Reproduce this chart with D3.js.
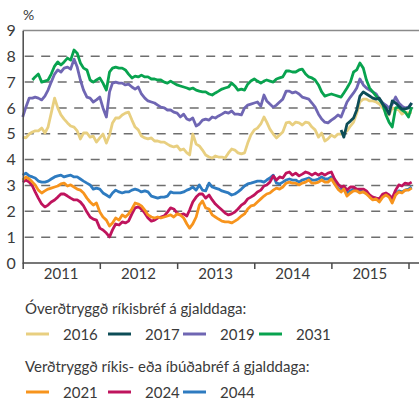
<!DOCTYPE html>
<html>
<head>
<meta charset="utf-8">
<script src="https://cdn.jsdelivr.net/npm/d3@7"></script>
<style>
  body { margin: 0; background: #fff; }
  svg { display: block; font-family: Lato, sans-serif; }
</style>
</head>
<body>
<div id="chart"></div>
<script>
const yearLabels = ['2011', '2012', '2013', '2014', '2015'];
const yTicks = [0, 1, 2, 3, 4, 5, 6, 7, 8, 9];

const nomLegendTitle = 'Óverðtryggð ríkisbréf á gjalddaga:';
const idxLegendTitle = 'Verðtryggð ríkis- eða íbúðabréf á gjalddaga:';

const start2016 = '2011-01-01';
const values2016 = [4.87,4.84,4.99,5.07,5.11,5.11,5.22,5.03,5.26,5.80,6.38,6.00,5.73,5.57,5.42,5.30,5.26,5.11,4.80,5.03,
  5.03,4.87,4.91,4.68,4.84,4.99,4.64,4.95,5.42,5.61,5.61,5.73,5.80,5.84,5.53,5.26,5.15,4.91,4.84,4.80,
  4.84,4.72,4.72,4.68,4.68,4.60,4.53,4.49,4.53,4.37,4.41,4.26,4.18,4.99,4.60,4.53,4.37,4.18,4.10,4.06,
  4.14,4.10,4.10,4.06,4.26,4.41,4.37,4.26,4.22,4.26,4.64,4.95,5.15,5.22,5.38,5.65,5.45,5.18,4.99,4.84,
  4.95,5.07,5.42,5.45,5.34,5.45,5.42,5.34,5.45,5.42,5.26,5.15,4.87,5.03,4.72,4.80,4.95,4.87,4.99,4.99,
  5.03,5.11,5.30,5.45,5.80,6.23,6.34,6.34,6.27,6.27,6.23,6.15,6.00,5.84,5.73,6.00,5.96,5.92,5.76,5.84,
  5.80,5.84];

const start2017 = '2015-02-16';
const values2017 = [5.15,4.87,5.38,5.49,5.61,5.92,6.46,6.62,6.54,6.46,6.38,6.34,6.38,6.15,6.00,5.76,6.27,6.19,6.07,5.96,
  5.96,6.00,6.19];

const start2019 = '2011-01-01';
const values2019 = [5.65,6.03,6.38,6.38,6.42,6.38,6.31,6.46,6.69,7.00,7.31,7.47,7.39,7.54,7.58,7.50,7.89,7.58,7.08,6.69,
  6.42,6.38,6.23,6.31,6.42,6.00,5.65,6.62,6.96,7.00,6.96,6.96,6.89,6.92,6.81,6.73,6.81,6.54,6.38,6.27,
  6.23,6.19,6.11,6.03,6.00,5.92,5.92,5.84,5.80,5.65,5.76,5.57,5.53,5.61,5.30,5.38,5.53,5.57,5.53,5.65,
  5.61,5.69,5.76,5.84,5.80,5.88,5.76,5.76,5.73,6.00,6.11,6.15,6.19,6.23,6.07,6.50,6.27,6.15,6.03,6.11,
  6.23,6.34,6.65,6.65,6.58,6.62,6.54,6.42,6.38,6.34,6.19,6.03,5.76,5.57,5.45,5.42,5.53,5.61,5.73,5.65,
  5.92,6.23,6.42,6.58,6.77,7.12,6.89,6.77,6.69,6.62,6.54,6.34,6.19,6.11,6.00,6.15,6.42,6.19,6.07,6.00,
  6.03,6.19];

const start2031 = '2011-02-16';
const values2031 = [7.08,7.20,7.31,7.00,7.04,7.08,7.31,7.62,7.78,7.66,7.78,7.93,7.85,8.24,8.12,7.74,7.54,7.47,7.08,7.00,
  7.08,7.16,6.96,6.69,7.39,7.54,7.58,7.54,7.54,7.47,7.31,7.16,7.23,7.20,7.27,7.20,7.20,7.12,7.12,7.08,
  7.08,7.00,6.96,7.04,6.96,6.89,6.85,6.81,6.77,6.73,6.77,6.69,6.65,6.62,6.62,6.54,6.50,6.58,6.65,6.73,
  6.77,6.81,6.96,6.85,6.69,6.73,6.69,6.92,7.04,7.12,7.04,6.96,7.04,7.08,7.04,7.00,7.12,7.16,7.20,7.43,
  7.43,7.39,7.39,7.47,7.50,7.31,7.20,7.16,7.08,6.89,6.62,6.46,6.50,6.54,6.50,6.46,6.42,6.58,6.77,7.00,
  7.39,7.47,7.74,7.54,7.08,6.77,6.62,6.46,6.31,6.15,5.73,5.45,5.26,6.00,6.03,5.92,5.84,5.65,6.03];

const start2021 = '2011-01-01';
const values2021 = [3.21,3.33,3.25,3.13,3.02,2.82,2.71,2.79,2.86,2.90,2.94,2.98,3.06,3.09,2.98,3.02,2.94,2.86,2.82,2.71,
  2.51,2.36,2.24,2.32,1.97,1.78,1.66,1.43,1.55,1.74,1.66,1.86,1.78,1.90,2.09,2.32,2.28,2.21,2.05,1.86,
  1.78,1.74,1.78,1.74,1.78,1.82,1.86,1.78,1.90,1.86,1.74,1.51,1.35,1.51,1.78,2.24,2.40,2.13,2.09,1.86,
  1.78,1.70,1.62,1.59,1.59,1.55,1.62,1.70,1.82,1.90,2.09,2.21,2.24,2.36,2.48,2.59,2.67,2.71,2.82,2.90,
  2.86,2.94,3.09,3.13,3.09,3.09,3.02,3.09,3.13,3.21,3.09,3.09,3.13,3.21,3.13,3.13,3.25,3.06,2.86,2.75,
  2.86,2.59,2.71,2.79,2.79,2.71,2.75,2.67,2.55,2.44,2.48,2.36,2.55,2.63,2.55,2.32,2.63,2.75,2.71,2.82,
  2.82,2.90];

const start2024 = '2011-01-01';
const values2024 = [3.13,3.21,3.13,2.98,2.75,2.51,2.28,2.17,2.24,2.36,2.44,2.55,2.67,2.67,2.59,2.51,2.44,2.44,2.36,2.21,
  1.97,1.78,1.70,1.66,1.35,1.28,1.16,1.01,1.28,1.51,1.47,1.59,1.55,1.62,1.90,2.13,2.17,2.09,1.93,1.74,
  1.62,1.66,1.74,1.78,1.82,1.97,2.13,2.09,1.93,1.86,1.90,1.82,2.05,2.36,2.55,2.67,2.67,2.51,2.63,2.44,
  2.28,2.17,2.05,1.93,1.86,1.90,1.97,2.09,2.24,2.32,2.48,2.55,2.63,2.75,2.82,2.98,3.02,3.13,3.37,3.21,
  3.33,3.29,3.48,3.52,3.40,3.48,3.37,3.44,3.52,3.48,3.40,3.48,3.40,3.48,3.40,3.48,3.52,3.25,3.06,2.94,
  2.98,2.82,2.94,2.94,2.86,2.86,2.86,2.79,2.63,2.55,2.51,2.48,2.67,2.71,2.63,2.51,2.82,3.02,2.98,3.09,
  3.06,3.13];

const start2044 = '2011-01-01';
const values2044 = [3.40,3.48,3.37,3.33,3.29,3.17,3.13,3.13,3.17,3.25,3.33,3.37,3.40,3.33,3.37,3.40,3.33,3.33,3.25,3.17,
  3.09,3.02,2.86,2.90,2.86,2.71,2.63,2.55,2.71,2.82,2.75,2.71,2.75,2.75,2.82,2.86,2.82,2.75,2.79,2.75,
  2.59,2.55,2.51,2.55,2.55,2.59,2.75,2.71,2.71,2.71,2.75,2.82,2.86,2.94,2.82,3.02,2.82,2.79,3.09,2.94,
  2.90,2.86,2.79,2.75,2.71,2.63,2.67,2.75,2.86,2.98,3.06,3.09,3.13,3.17,3.17,3.13,3.21,3.29,3.40,3.09,
  3.06,3.13,3.21,3.25,3.21,3.21,3.13,3.21,3.25,3.29,3.21,3.21,3.25,3.33,3.25,3.25,3.33,3.09,2.90,2.82,
  2.94,2.71,2.79,2.86,2.79,2.79,2.75,2.71,2.59,2.51,2.51,2.44,2.59,2.67,2.59,2.44,2.67,2.79,2.75,2.82,
  2.86,2.94];

const colors = {
  '2016': '#e8cf80', '2017': '#0d4d57', '2019': '#6f66b3', '2031': '#08a34f',
  '2021': '#f7941d', '2024': '#bf145d', '2044': '#2e7bc0'
};

// expand a start date + semi-monthly values into dated points
const semiMonthly = (startStr, vals) => {
  const s = new Date(startStr + 'T00:00:00');
  const offset = s.getDate() > 1 ? 1 : 0;
  return vals.map((v, i) => {
    const k = i + offset;
    return { date: new Date(s.getFullYear(), s.getMonth() + Math.floor(k / 2), k % 2 ? 16 : 1), value: v };
  });
};

const series = [
  { name: '2016', data: semiMonthly(start2016, values2016) },
  { name: '2019', data: semiMonthly(start2019, values2019) },
  { name: '2031', data: semiMonthly(start2031, values2031) },
  { name: '2017', data: semiMonthly(start2017, values2017) },
  { name: '2044', data: semiMonthly(start2044, values2044) },
  { name: '2024', data: semiMonthly(start2024, values2024) },
  { name: '2021', data: semiMonthly(start2021, values2021) }
];

const svgWidth = 419;
const svgHeight = 401;
const plotLeft = 22.7, plotTop = 30.4, plotBottom = 263, plotRight = 419;

const svg = d3.select('#chart')
  .append('svg')
  .attr('width', svgWidth)
  .attr('height', svgHeight);

const xScale = d3.scaleTime()
  .domain([new Date(2011, 0, 1), new Date(2016, 0, 1)])
  .range([plotLeft, 408.5]);

const yScale = d3.scaleLinear()
  .domain([0, 9])
  .range([plotBottom, plotTop]);

const textColor = '#3a3a3a';

// dashed gridlines
svg.append('g')
  .selectAll('line')
  .data(yTicks.filter(d => d > 0 && d < 9))
  .join('line')
  .attr('x1', plotLeft + 2)
  .attr('x2', 414)
  .attr('y1', d => yScale(d))
  .attr('y2', d => yScale(d))
  .attr('stroke', '#6e6e6e')
  .attr('stroke-width', 1.5)
  .attr('stroke-dasharray', '9,7.5');

// top frame line
svg.append('line')
  .attr('x1', plotLeft).attr('x2', plotRight)
  .attr('y1', yScale(9)).attr('y2', yScale(9))
  .attr('stroke', '#8a8a8a')
  .attr('stroke-width', 1.5);

// lines
const line = d3.line()
  .x(d => xScale(d.date))
  .y(d => yScale(d.value));

svg.append('g')
  .selectAll('path')
  .data(series)
  .join('path')
  .attr('d', d => line(d.data))
  .attr('fill', 'none')
  .attr('stroke', d => colors[d.name])
  .attr('stroke-width', 2.8)
  .attr('stroke-linejoin', 'round');

// y axis
const yAxis = svg.append('g')
  .attr('transform', `translate(${plotLeft},0)`)
  .call(d3.axisLeft(yScale).tickValues(yTicks).tickSize(0).tickPadding(7));
yAxis.select('.domain').attr('stroke', '#4a4a4a').attr('stroke-width', 1.5);
yAxis.selectAll('text')
  .attr('fill', textColor)
  .style('font-size', '16px')
  .style('font-family', 'Lato, sans-serif');

// x axis: year boundary ticks, labels centred in each year
const yearStarts = d3.range(2011, 2017).map(y => new Date(y, 0, 1));
const xAxis = svg.append('g')
  .attr('transform', `translate(0,${plotBottom})`)
  .call(d3.axisBottom(xScale).tickValues(yearStarts).tickSize(6).tickFormat(''));
xAxis.select('.domain').attr('d', `M${plotLeft},0H${plotRight}`).attr('stroke', '#4a4a4a').attr('stroke-width', 1.5);
xAxis.selectAll('.tick line').attr('stroke', '#4a4a4a').attr('stroke-width', 1.5);

svg.append('g')
  .selectAll('text')
  .data(yearLabels)
  .join('text')
  .attr('x', d => xScale(new Date(+d, 6, 2)))
  .attr('y', 279)
  .attr('text-anchor', 'middle')
  .attr('fill', textColor)
  .style('font-size', '15px')
  .text(d => d);

svg.append('text')
  .attr('x', 23)
  .attr('y', 20)
  .attr('fill', textColor)
  .style('font-size', '14px')
  .text('%');

// legend
const legendGroups = [
  { title: nomLegendTitle, titleY: 314, rowY: 334, items: ['2016', '2017', '2019', '2031'] },
  { title: idxLegendTitle, titleY: 372, rowY: 392, items: ['2021', '2024', '2044'] }
];
const itemX = [26, 108, 183, 259];

legendGroups.forEach(g => {
  svg.append('text')
    .attr('x', 25)
    .attr('y', g.titleY)
    .attr('fill', textColor)
    .style('font-size', '15px')
    .text(g.title);

  const items = svg.append('g')
    .selectAll('g')
    .data(g.items)
    .join('g')
    .attr('transform', (d, i) => `translate(${itemX[i]},${g.rowY})`);
  items.append('line')
    .attr('x1', 0).attr('x2', 23)
    .attr('stroke', d => colors[d])
    .attr('stroke-width', 3);
  items.append('text')
    .attr('x', 37)
    .attr('y', 5.5)
    .attr('fill', textColor)
    .style('font-size', '15px')
    .text(d => d);
});
</script>
</body>
</html>
